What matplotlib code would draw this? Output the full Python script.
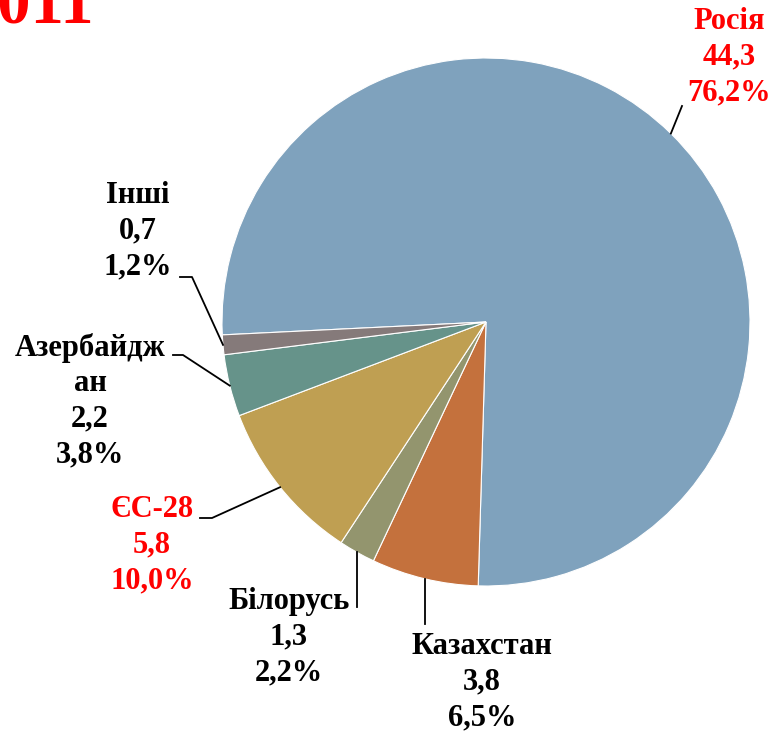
import numpy as np
import matplotlib.pyplot as plt

countries = ['Росія', 'Казахстан', 'Білорусь', 'ЄС-28', 'Азербайдж\nан', 'Інші']
values = [44.3, 3.8, 1.3, 5.8, 2.2, 0.7]
shares = ['76,2%', '6,5%', '2,2%', '10,0%', '3,8%', '1,2%']
colors = ['#7FA2BD', '#C4713D', '#93956E', '#BF9F52', '#66938A', '#857A7A']
label_colors = ['red', 'black', 'black', 'red', 'black', 'black']

W, H = 774, 733
cx, cy, R = 486, 322, 264

# label block centres and leader elbow/end points (pixels); end x None -> vertical leader
label_pos = [(729, 57), (482, 682), (289, 637), (152, 545), (90, 401), (138, 231)]
elbows = [None, None, None, (212, 518), (183, 355), (192, 277)]
ends = [(682, 106), (None, 624), (None, 607), (200, 518), (173, 355), (180, 277)]


def to_data(x, y):
    return (x - cx) / R, (cy - y) / R


fig = plt.figure(figsize=(W / 100, H / 100), dpi=100)
ax = fig.add_axes([(cx - R) / W, (H - cy - R) / H, 2 * R / W, 2 * R / H])
wedges, _ = ax.pie(values, colors=colors, startangle=182.8, counterclock=False,
                   radius=1, wedgeprops=dict(edgecolor='white', linewidth=0.8))
ax.set_xlim(-1, 1)
ax.set_ylim(-1, 1)
ax.axis('off')

font = dict(family='Liberation Serif', fontweight='bold', fontsize=22)
for i, w in enumerate(wedges):
    ang = np.deg2rad((w.theta1 + w.theta2) / 2)
    x0, y0 = np.cos(ang), np.sin(ang)
    pts = [(x0, y0)]
    if elbows[i] is not None:
        pts.append(to_data(*elbows[i]))
    ex, ey = ends[i]
    if ex is None:
        pts.append((x0, to_data(0, ey)[1]))
    else:
        pts.append(to_data(ex, ey))
    xs, ys = zip(*pts)
    ax.plot(xs, ys, color='black', lw=1.3, clip_on=False)
    tx, ty = to_data(*label_pos[i])
    txt = '{}\n{}\n{}'.format(countries[i], str(values[i]).replace('.', ','), shares[i])
    ax.text(tx, ty, txt, ha='center', va='center', color=label_colors[i],
            linespacing=1.3, clip_on=False, **font)

fig.text(94 / W, 1 - 23 / H, '2011', ha='right', va='baseline', color='red',
         family='Liberation Serif', fontweight='bold', fontsize=48)

fig.savefig('out.png', dpi=100)
